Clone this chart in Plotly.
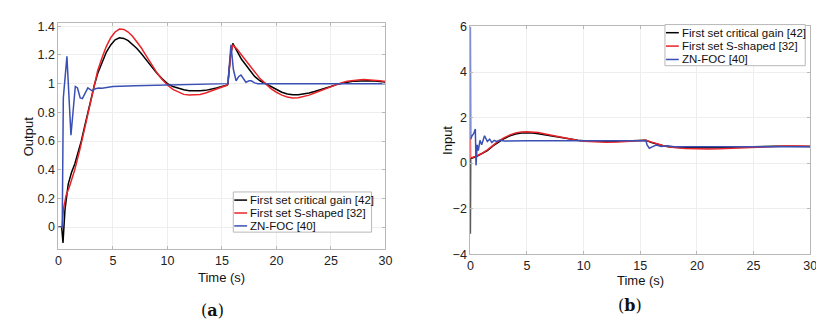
import plotly.graph_objects as go

# ---------------- data: (a) Output ----------------
out_crit_t = [0, 0.3, 0.42, 0.6, 0.9, 1.2, 1.5, 1.8, 2.1, 2.4, 2.7, 3.0, 3.3, 3.6, 4.0, 4.4, 4.8, 5.2, 5.6, 6.0,
              6.4, 6.8, 7.2, 7.6, 8.0, 8.5, 9.0, 9.5, 10.0, 10.5, 11.0, 11.5, 12.0, 12.5, 13.0, 13.5, 14.0, 14.5,
              15.0, 15.5, 15.55, 15.8, 16.0, 16.4, 16.8, 17.2, 17.6, 18.0, 18.5, 19.0, 19.5, 20.0, 20.5, 21.0,
              21.5, 22.0, 22.5, 23.0, 23.5, 24.0, 24.5, 25.0, 25.5, 26.0, 26.5, 27.0, 27.5, 28.0, 28.5, 29.0,
              29.5, 30.0]
out_crit_y = [0, 0, -0.11, 0.12, 0.30, 0.38, 0.44, 0.52, 0.60, 0.70, 0.80, 0.90, 0.99, 1.07, 1.15, 1.22, 1.27,
              1.305, 1.32, 1.315, 1.30, 1.275, 1.245, 1.21, 1.17, 1.12, 1.075, 1.035, 1.0, 0.98, 0.967, 0.957,
              0.951, 0.949, 0.95, 0.953, 0.96, 0.97, 0.98, 0.99, 1.0, 1.2, 1.28, 1.22, 1.17, 1.13, 1.09, 1.05,
              1.02, 1.0, 0.975, 0.955, 0.94, 0.928, 0.922, 0.922, 0.927, 0.935, 0.945, 0.955, 0.968, 0.98,
              0.993, 1.003, 1.01, 1.016, 1.019, 1.02, 1.02, 1.018, 1.015, 1.012]

out_s_t = [0, 0.35, 0.45, 0.7, 1.0, 1.5, 2.0, 2.5, 3.0, 3.3, 3.6, 4.0, 4.4, 4.8, 5.2, 5.6, 6.0, 6.4, 6.8, 7.2,
           7.6, 8.0, 8.5, 9.0, 9.5, 10.0, 10.5, 11.0, 11.5, 12.0, 12.5, 13.0, 13.5, 14.0, 14.5, 15.0, 15.5,
           15.55, 15.8, 16.0, 16.4, 16.8, 17.2, 17.6, 18.0, 18.5, 19.0, 19.5, 20.0, 20.5, 21.0, 21.5, 22.0,
           22.5, 23.0, 23.5, 24.0, 24.5, 25.0, 25.5, 26.0, 26.5, 27.0, 27.5, 28.0, 28.5, 29.0, 29.5, 30.0]
out_s_y = [0, 0, 0.12, 0.22, 0.28, 0.40, 0.55, 0.72, 0.90, 1.0, 1.09, 1.18, 1.26, 1.32, 1.36, 1.38, 1.378,
           1.36, 1.33, 1.29, 1.25, 1.20, 1.14, 1.08, 1.03, 0.99, 0.96, 0.94, 0.925, 0.92, 0.92, 0.925, 0.935,
           0.948, 0.962, 0.975, 0.99, 1.0, 1.2, 1.27, 1.24, 1.2, 1.16, 1.12, 1.08, 1.035, 1.0, 0.965, 0.94,
           0.92, 0.907, 0.90, 0.902, 0.91, 0.92, 0.935, 0.95, 0.965, 0.98, 0.995, 1.007, 1.016, 1.022, 1.026,
           1.028, 1.027, 1.024, 1.02, 1.015]

out_zn_t = [0, 0.35, 0.45, 0.78, 1.15, 1.55, 1.75, 2.0, 2.2, 2.45, 2.7, 2.9, 3.1, 3.4, 3.7, 4.0, 4.4, 5.0, 7.0,
            10.0, 15.5, 15.55, 15.83, 16.05, 16.3, 16.55, 16.75, 17.0, 17.2, 17.5, 17.7, 18.0, 18.3, 20.0, 30.0]
out_zn_y = [0, 0, 0.9, 1.19, 0.64, 0.98, 0.97, 0.90, 0.895, 0.93, 0.97, 0.96, 0.95, 0.965, 0.97, 0.968, 0.972,
            0.98, 0.985, 0.99, 0.995, 1.0, 1.27, 1.1, 1.02, 1.05, 1.06, 1.03, 1.01, 1.02, 1.02, 1.005, 1.0, 1.0,
            1.0]

# ---------------- data: (b) Input ----------------
in_crit_t = [0, 0.02, 0.5, 1.0, 1.5, 2.0, 2.5, 3.0, 3.5, 4.0, 4.5, 5.0, 5.5, 6.0, 6.5, 7.0, 7.5, 8.0, 8.5, 9.0,
             9.5, 10, 11, 12, 13, 14, 15, 15.5, 16.0, 16.5, 17.0, 17.5, 18.0, 19, 20, 21, 22, 23, 24, 25, 26,
             27, 28, 29, 30]
in_crit_y = [-3.1, 0.2, 0.28, 0.4, 0.55, 0.75, 0.93, 1.08, 1.2, 1.28, 1.32, 1.33, 1.32, 1.29, 1.25, 1.2, 1.15,
             1.1, 1.06, 1.03, 1.0, 0.98, 0.955, 0.95, 0.955, 0.97, 0.99, 1.0, 0.9, 0.82, 0.76, 0.72, 0.69, 0.67,
             0.66, 0.66, 0.67, 0.69, 0.71, 0.725, 0.735, 0.74, 0.74, 0.735, 0.73]

in_s_t = [0, 0.02, 0.5, 1.0, 1.5, 2.0, 2.5, 3.0, 3.5, 4.0, 4.5, 5.0, 5.5, 6.0, 6.5, 7.0, 7.5, 8.0, 8.5, 9.0,
          9.5, 10, 11, 12, 13, 14, 15, 15.5, 16.0, 16.5, 17, 17.5, 18, 19, 20, 21, 22, 23, 24, 25, 26, 27, 28,
          29, 30]
in_s_y = [1.12, 0.22, 0.3, 0.42, 0.58, 0.78, 0.97, 1.12, 1.24, 1.32, 1.37, 1.38, 1.37, 1.34, 1.29, 1.24, 1.18,
          1.12, 1.07, 1.02, 0.99, 0.96, 0.93, 0.92, 0.93, 0.95, 0.98, 1.0, 0.92, 0.84, 0.77, 0.72, 0.68, 0.64,
          0.62, 0.615, 0.625, 0.65, 0.68, 0.71, 0.735, 0.75, 0.755, 0.75, 0.74]

in_zn_t = [0, 0.03, 0.15, 0.3, 0.44, 0.5, 0.6, 0.7, 0.85, 1.0, 1.25, 1.5, 1.7, 1.9, 2.1, 2.3, 2.6, 3.0, 5.0,
           10.0, 15.5, 15.6, 15.8, 16.1, 16.4, 16.85, 17.4, 18.0, 30.0]
in_zn_y = [6.0, 1.05, 1.2, 1.3, 1.5, -0.1, 0.8, 0.55, 1.0, 0.8, 1.2, 0.95, 1.05, 0.9, 1.0, 0.95, 1.0, 0.97,
           0.98, 0.98, 0.98, 0.8, 0.65, 0.72, 0.79, 0.73, 0.76, 0.72, 0.72]

series_names = ["First set critical gain [42]", "First set S-shaped [32]", "ZN-FOC [40]"]
series_colors = ["#000000", "#e8242a", "#3a50b4"]
x_ticks = [0, 5, 10, 15, 20, 25, 30]
out_ticks = [0, 0.2, 0.4, 0.6, 0.8, 1, 1.2, 1.4]
out_tick_text = ["0", "0.2", "0.4", "0.6", "0.8", "1", "1.2", "1.4"]
in_ticks = [-4, -2, 0, 2, 4, 6]

W, H = 824, 322
FONT = "Liberation Sans, Arial, Helvetica, sans-serif"
FRAME = "#b8b8b8"

fig = go.Figure()

left = [(out_crit_t, out_crit_y), (out_s_t, out_s_y), (out_zn_t, out_zn_y)]
right = [(in_crit_t, in_crit_y), (in_s_t, in_s_y), (in_zn_t, in_zn_y)]

for i, (t, y) in enumerate(left):
    fig.add_trace(go.Scatter(x=t, y=y, mode="lines", name=series_names[i], showlegend=False,
                             line=dict(color=series_colors[i], width=1.5),
                             xaxis="x", yaxis="y"))
for i, (t, y) in enumerate(right):
    fig.add_trace(go.Scatter(x=t, y=y, mode="lines", name=series_names[i], showlegend=False,
                             line=dict(color=series_colors[i], width=1.5),
                             xaxis="x2", yaxis="y2"))

ax_common = dict(showline=True, mirror="ticks", linecolor=FRAME, linewidth=1,
                 ticks="inside", ticklen=3, tickcolor=FRAME,
                 showgrid=True, gridcolor="#eeeeee", gridwidth=1, zeroline=False,
                 tickfont=dict(family=FONT, size=12.5, color="#222222"))

left_dom_x = [48 / W, 379 / W]
left_dom_y = [1 - 245 / H, 1 - 8 / H]
right_dom_x = [465 / W, 809 / W]
right_dom_y = [1 - 250 / H, 1 - 12 / H]

fig.update_layout(
    width=W, height=H,
    margin=dict(l=0, r=0, t=0, b=0),
    paper_bgcolor="white", plot_bgcolor="white",
    xaxis=dict(domain=left_dom_x, anchor="y", range=[0, 30], tickvals=x_ticks, **ax_common),
    yaxis=dict(domain=left_dom_y, anchor="x", range=[-0.155, 1.425], tickvals=out_ticks,
               ticktext=out_tick_text, **ax_common),
    xaxis2=dict(domain=right_dom_x, anchor="y2", range=[0, 30], tickvals=x_ticks, **ax_common),
    yaxis2=dict(domain=right_dom_y, anchor="x2", range=[-4, 6], tickvals=in_ticks, **ax_common),
    showlegend=False,
)

ann_font = dict(family=FONT, size=13, color="#111111")
annotations = [
    dict(text="Time (s)", x=213.5 / W, y=1 - 274 / H, xref="paper", yref="paper",
         showarrow=False, font=ann_font, xanchor="center", yanchor="middle"),
    dict(text="Time (s)", x=637 / W, y=1 - 278 / H, xref="paper", yref="paper",
         showarrow=False, font=ann_font, xanchor="center", yanchor="middle"),
    dict(text="Output", x=18 / W, y=1 - 127 / H, xref="paper", yref="paper", textangle=-90,
         showarrow=False, font=ann_font, xanchor="center", yanchor="middle"),
    dict(text="Input", x=442 / W, y=1 - 131 / H, xref="paper", yref="paper", textangle=-90,
         showarrow=False, font=ann_font, xanchor="center", yanchor="middle"),
    dict(text="(<b>a</b>)", x=204 / W, y=1 - 309 / H, xref="paper", yref="paper",
         showarrow=False, font=dict(family="DejaVu Serif, Liberation Serif, serif", size=16, color="#111111"),
         xanchor="center", yanchor="middle"),
    dict(text="(<b>b</b>)", x=627 / W, y=1 - 304 / H, xref="paper", yref="paper",
         showarrow=False, font=dict(family="DejaVu Serif, Liberation Serif, serif", size=16, color="#111111"),
         xanchor="center", yanchor="middle"),
]
shapes = []


def add_legend(box, first_y, step):
    """MATLAB-style compact legend box (box in pixel coords: x0, y0, x1, y1)."""
    x0, y0, x1, y1 = box
    shapes.append(dict(type="rect", xref="paper", yref="paper",
                       x0=x0 / W, x1=x1 / W, y0=1 - y1 / H, y1=1 - y0 / H,
                       line=dict(color=FRAME, width=1), fillcolor="white", layer="above"))
    for i, name in enumerate(series_names):
        yy = first_y + i * step
        shapes.append(dict(type="line", xref="paper", yref="paper",
                           x0=(x0 + 1) / W, x1=(x0 + 14) / W, y0=1 - yy / H, y1=1 - yy / H,
                           line=dict(color=series_colors[i], width=1.5), layer="above"))
        annotations.append(dict(text=name, x=(x0 + 15) / W, y=1 - yy / H, xref="paper", yref="paper",
                                showarrow=False, xanchor="left", yanchor="middle",
                                font=dict(family=FONT, size=11.5, color="#111111")))


add_legend((225, 185, 365, 227), 193.5, 13.5)
add_legend((662, 10, 804, 53), 18.5, 14.0)

fig.update_layout(annotations=annotations, shapes=shapes)

fig.write_html("out.html")
